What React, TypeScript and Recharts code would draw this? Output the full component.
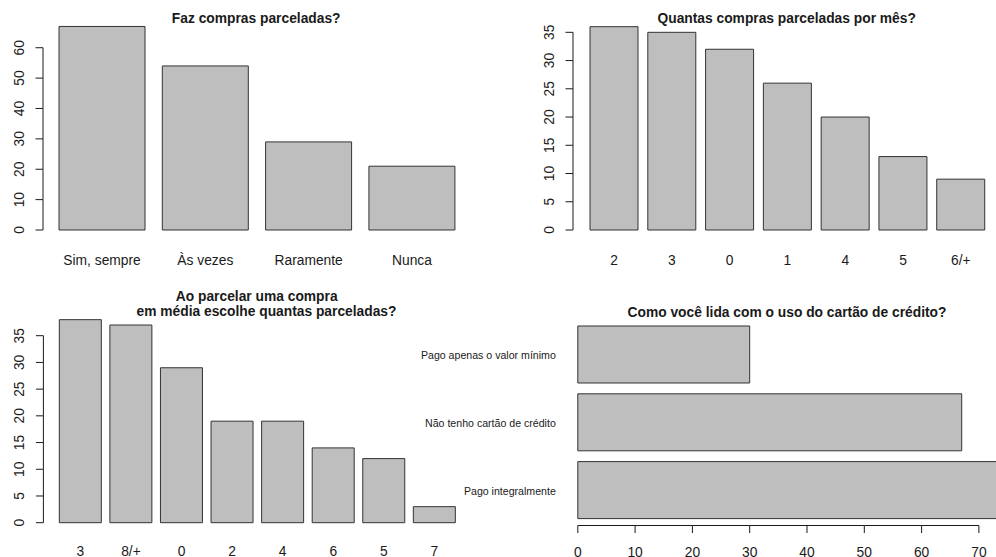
import React from "react";
import { BarChart, Bar, XAxis, YAxis } from "recharts";

// Four base-R style barplots from a survey on installment purchases.

const FONT = '"Liberation Sans", Arial, Helvetica, sans-serif';
const INK = "#1a1a1a";
const BAR_FILL = "#bebebe";
const BAR_STROKE = "#333";

// Faz compras parceladas?
const freqCats = ["Sim, sempre", "Às vezes", "Raramente", "Nunca"];
const freqVals = [67, 54, 29, 21];
const freqTicks = [0, 10, 20, 30, 40, 50, 60];

// Quantas compras parceladas por mês?
const perMonthCats = ["2", "3", "0", "1", "4", "5", "6/+"];
const perMonthVals = [36, 35, 32, 26, 20, 13, 9];
const perMonthTicks = [0, 5, 10, 15, 20, 25, 30, 35];

// Ao parcelar uma compra, em média escolhe quantas parceladas?
const installCats = ["3", "8/+", "0", "2", "4", "6", "5", "7"];
const installVals = [38, 37, 29, 19, 19, 14, 12, 3];
const installTicks = [0, 5, 10, 15, 20, 25, 30, 35];

// Como você lida com o uso do cartão de crédito? (top to bottom)
const cardCats = ["Pago apenas o valor mínimo", "Não tenho cartão de crédito", "Pago integralmente"];
const cardVals = [30, 67, 74];
const cardTicks = [0, 10, 20, 30, 40, 50, 60, 70];

type Box = { x: number; y: number; w: number; h: number };

interface VPanelProps {
  cats: string[];
  vals: number[];
  ticks: number[];
  box: Box;
  axisX: number; // page x of the y axis line
  zeroY: number; // page y of value 0
  ppu: number; // pixels per unit
  bandL: number;
  bandR: number;
  labelDy: number;
}

function VBarPanel(p: VPanelProps) {
  const data = p.cats.map((c, i) => ({ name: c, value: p.vals[i] }));
  const max = Math.max(...p.vals);
  const yw = p.axisX - p.box.x;
  const plotTop = p.zeroY - max * p.ppu;
  const step = p.ticks[1] - p.ticks[0];
  const lastTick = p.ticks[p.ticks.length - 1];

  const YTick = (props: any) => {
    const { y, payload } = props;
    const v = payload.value;
    return (
      <g>
        <line x1={yw - 7.5} x2={yw} y1={y} y2={y} stroke={INK} />
        {v < lastTick && <line x1={yw} x2={yw} y1={y} y2={y - step * p.ppu} stroke={INK} />}
        <text
          x={yw - 19}
          y={y}
          transform={`rotate(-90 ${yw - 19} ${y})`}
          textAnchor="middle"
          fontSize={13.8}
          fontFamily={FONT}
          fill={INK}
        >
          {v}
        </text>
      </g>
    );
  };

  const XTick = (props: any) => {
    const { x, y, payload } = props;
    return (
      <text x={x} y={y + p.labelDy} textAnchor="middle" fontSize={13.8} fontFamily={FONT} fill={INK}>
        {payload.value}
      </text>
    );
  };

  return (
    <div style={{ position: "absolute", left: p.box.x, top: p.box.y, width: p.box.w, height: p.box.h, overflow: "hidden" }}>
      <BarChart
        width={p.box.w}
        height={p.box.h}
        data={data}
        margin={{ top: plotTop - p.box.y, right: p.box.x + p.box.w - p.bandR, bottom: 0, left: 0 }}
        barCategoryGap="8.333%"
      >
        <XAxis
          dataKey="name"
          type="category"
          height={p.box.y + p.box.h - p.zeroY}
          padding={{ left: p.bandL - p.axisX, right: 0 }}
          axisLine={false}
          tickLine={false}
          tickSize={0}
          tickMargin={0}
          tick={XTick}
          interval={0}
        />
        <YAxis
          type="number"
          domain={[0, max]}
          ticks={p.ticks}
          width={yw}
          axisLine={false}
          tickLine={false}
          tickSize={0}
          tickMargin={0}
          tick={YTick}
          interval={0}
        />
        <Bar dataKey="value" fill={BAR_FILL} stroke={BAR_STROKE} strokeWidth={1} isAnimationActive={false} />
      </BarChart>
    </div>
  );
}

function CardPanel() {
  const data = cardCats.map((c, i) => ({ name: c, value: cardVals[i] }));
  const box: Box = { x: 400, y: 280, w: 610, h: 277 };
  const axisX = 577.8;
  const axisY = 525.5;
  const ppu = 5.73;
  const max = Math.max(...cardVals);
  const yw = axisX - box.x;
  const plotRight = axisX + max * ppu;
  const bandTop = 320.35;
  const bandBottom = 523.75;
  const step = cardTicks[1] - cardTicks[0];
  const lastTick = cardTicks[cardTicks.length - 1];

  const XTick = (props: any) => {
    const { x, y, payload } = props;
    const v = payload.value;
    return (
      <g>
        <line x1={x} x2={x} y1={y} y2={y + 7.5} stroke={INK} />
        {v < lastTick && <line x1={x} x2={x + step * ppu} y1={y} y2={y} stroke={INK} />}
        <text x={x} y={y + 31} textAnchor="middle" fontSize={13.8} fontFamily={FONT} fill={INK}>
          {v}
        </text>
      </g>
    );
  };

  const YTick = (props: any) => {
    const { y, payload } = props;
    return (
      <text x={yw - 22} y={y + 5} textAnchor="end" fontSize={10.6} fontFamily={FONT} fill={INK}>
        {payload.value}
      </text>
    );
  };

  return (
    <div style={{ position: "absolute", left: box.x, top: box.y, width: box.w, height: box.h, overflow: "hidden" }}>
      <BarChart
        width={box.w}
        height={box.h}
        data={data}
        layout="vertical"
        margin={{ top: bandTop - box.y, right: box.x + box.w - plotRight, bottom: 0, left: 0 }}
        barCategoryGap="8.333%"
      >
        <XAxis
          type="number"
          domain={[0, max]}
          ticks={cardTicks}
          height={box.y + box.h - axisY}
          axisLine={false}
          tickLine={false}
          tickSize={0}
          tickMargin={0}
          tick={XTick}
          interval={0}
        />
        <YAxis
          type="category"
          dataKey="name"
          width={yw}
          padding={{ top: 0, bottom: axisY - bandBottom }}
          axisLine={false}
          tickLine={false}
          tickSize={0}
          tickMargin={0}
          tick={YTick}
          interval={0}
        />
        <Bar dataKey="value" fill={BAR_FILL} stroke={BAR_STROKE} strokeWidth={1} isAnimationActive={false} />
      </BarChart>
    </div>
  );
}

const titleStyle = { fontSize: 13.8, fontWeight: 700, fontFamily: FONT, fill: INK } as const;

export default function App() {
  return (
    <div
      style={{
        position: "absolute",
        left: 0,
        top: 0,
        width: 996,
        height: 557,
        background: "#fff",
        overflow: "hidden",
        fontFamily: FONT,
      }}
    >
      <VBarPanel
        cats={freqCats}
        vals={freqVals}
        ticks={freqTicks}
        box={{ x: 0, y: 0, w: 500, h: 280 }}
        axisX={43}
        zeroY={230}
        ppu={3.038}
        bandL={50.4}
        bandR={463.6}
        labelDy={35}
      />
      <VBarPanel
        cats={perMonthCats}
        vals={perMonthVals}
        ticks={perMonthTicks}
        box={{ x: 500, y: 0, w: 496, h: 280 }}
        axisX={573}
        zeroY={230}
        ppu={5.648}
        bandL={585.2}
        bandR={989.7}
        labelDy={35}
      />
      <VBarPanel
        cats={installCats}
        vals={installVals}
        ticks={installTicks}
        box={{ x: 0, y: 280, w: 500, h: 277 }}
        axisX={43.4}
        zeroY={522.7}
        ppu={5.343}
        bandL={55.1}
        bandR={459.7}
        labelDy={33.5}
      />
      <CardPanel />
      <svg width={996} height={557} style={{ position: "absolute", left: 0, top: 0, pointerEvents: "none" }}>
        <text x={256.2} y={23.3} textAnchor="middle" style={titleStyle}>Faz compras parceladas?</text>
        <text x={786.7} y={23.3} textAnchor="middle" style={titleStyle}>Quantas compras parceladas por mês?</text>
        <text x={256.7} y={300.7} textAnchor="middle" style={titleStyle}>Ao parcelar uma compra</text>
        <text x={266.5} y={316.2} textAnchor="middle" style={titleStyle}>em média escolhe quantas parceladas?</text>
        <text x={787} y={316.7} textAnchor="middle" style={titleStyle}>Como você lida com o uso do cartão de crédito?</text>
      </svg>
    </div>
  );
}
